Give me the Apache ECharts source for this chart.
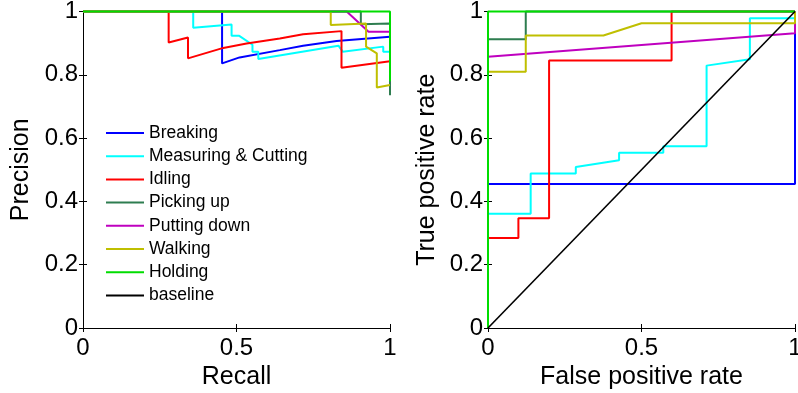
<!DOCTYPE html>
<html>
<head>
<meta charset="utf-8">
<script src="https://cdn.jsdelivr.net/npm/echarts@6/dist/echarts.min.js"></script>
<style>
html,body{margin:0;padding:0;background:#fff;}
#chart{width:798px;height:393px;}
</style>
</head>
<body>
<div id="chart"></div>
<script>
// ---- data ----
const classNames = ['Breaking','Measuring & Cutting','Idling','Picking up','Putting down','Walking','Holding','baseline'];
const classColors = ['#0000ff','#00ffff','#ff0000','#2e7d50','#bf00bf','#bfbf00','#00dd00','#000000'];

const xTicks = [0, 0.5, 1];
const yTicks = [0, 0.2, 0.4, 0.6, 0.8, 1];

// Precision-recall curves [recall, precision]
const prBreaking = [[0,1],[0.453,1],[0.453,0.836],[0.51,0.855],[0.641,0.878],[0.717,0.892],[0.826,0.907],[1,0.92]];
const prMeasuring = [[0,1],[0.359,1],[0.359,0.949],[0.484,0.959],[0.484,0.923],[0.509,0.923],[0.552,0.895],[0.552,0.873],[0.571,0.873],[0.571,0.85],[0.645,0.862],[0.832,0.892],[0.846,0.873],[0.978,0.889],[0.978,0.873],[1,0.873]];
const prIdling = [[0,1],[0.279,1],[0.279,0.902],[0.342,0.918],[0.342,0.852],[0.457,0.885],[0.533,0.899],[0.641,0.915],[0.717,0.928],[0.842,0.938],[0.842,0.822],[1,0.843]];
const prPicking = [[0,1],[0.905,1],[0.905,0.96],[1,0.962],[1,0.735]];
const prPutting = [[0,1],[0.859,1],[0.93,0.936],[1,0.936]];
const prWalking = [[0,1],[0.807,1],[0.807,0.957],[0.922,0.962],[0.922,0.889],[0.957,0.868],[0.957,0.76],[1,0.768]];
const prHolding = [[0,1],[1,1],[1,0.78]];

// ROC curves [false positive rate, true positive rate]
const rocBreaking = [[0,0],[0,0.455],[1,0.455],[1,1]];
const rocMeasuring = [[0,0],[0,0.361],[0.139,0.361],[0.139,0.488],[0.286,0.488],[0.286,0.509],[0.427,0.53],[0.427,0.554],[0.571,0.554],[0.571,0.574],[0.712,0.574],[0.712,0.829],[0.853,0.849],[0.853,0.979],[1,0.979],[1,1]];
const rocIdling = [[0,0],[0,0.284],[0.099,0.284],[0.099,0.347],[0.199,0.347],[0.199,0.845],[0.598,0.845],[0.598,1],[1,1]];
const rocPicking = [[0,0],[0,0.912],[0.123,0.912],[0.123,1],[1,1]];
const rocPutting = [[0,0],[0,0.857],[1,0.931],[1,1]];
const rocWalking = [[0,0],[0,0.81],[0.123,0.81],[0.123,0.924],[0.376,0.924],[0.5,0.963],[1,0.963],[1,1]];
const rocHolding = [[0,0],[0,1],[1,1]];
const rocBaseline = [[0,0],[1,1]];

const prData = [prBreaking, prMeasuring, prIdling, prPicking, prPutting, prWalking, prHolding];
const rocData = [rocBreaking, rocMeasuring, rocIdling, rocPicking, rocPutting, rocWalking, rocHolding, rocBaseline];

// ---- chart ----
const FONT = 'Liberation Sans, Arial, sans-serif';
const chart = echarts.init(document.getElementById('chart'), null, {renderer:'canvas'});

function mainX(grid, name){
  return {type:'value', gridIndex:grid, min:0, max:1, interval:0.5, position:'bottom',
    name:name, nameLocation:'middle', nameGap:34,
    nameTextStyle:{fontFamily:FONT, fontSize:25, color:'#000'},
    axisLine:{show:true, lineStyle:{color:'#000', width:1}},
    axisTick:{show:true, inside:true, length:4, lineStyle:{color:'#000'}},
    axisLabel:{show:true, margin:8, fontFamily:FONT, fontSize:24, color:'#000',
      formatter:v => xTicks.indexOf(v) >= 0 ? String(v) : ''},
    splitLine:{show:false}};
}
function topX(grid){
  return {type:'value', gridIndex:grid, min:0, max:1, interval:0.5, position:'top',
    axisLine:{show:true, lineStyle:{color:'#000', width:1}},
    axisTick:{show:true, inside:true, length:4, lineStyle:{color:'#000'}},
    axisLabel:{show:false}, splitLine:{show:false}};
}
function mainY(grid, name, gap){
  return {type:'value', gridIndex:grid, min:0, max:1, interval:0.2, position:'left',
    name:name, nameLocation:'middle', nameGap:gap,
    nameTextStyle:{fontFamily:FONT, fontSize:25, color:'#000'},
    axisLine:{show:true, lineStyle:{color:'#000', width:1}},
    axisTick:{show:true, inside:true, length:4, lineStyle:{color:'#000'}},
    axisLabel:{show:true, margin:5, fontFamily:FONT, fontSize:24, color:'#000',
      formatter:v => String(Math.round(v*10)/10)},
    splitLine:{show:false}};
}
function rightY(grid){
  return {type:'value', gridIndex:grid, min:0, max:1, interval:0.2, position:'right',
    axisLine:{show:true, lineStyle:{color:'#000', width:1}},
    axisTick:{show:true, inside:true, length:4, lineStyle:{color:'#000'}},
    axisLabel:{show:false}, splitLine:{show:false}};
}

const series = [];
prData.forEach((d, i) => {
  series.push({name:classNames[i], type:'line', xAxisIndex:0, yAxisIndex:0, data:d,
    symbol:'none', clip:false, lineStyle:{color:classColors[i], width:2}, itemStyle:{color:classColors[i]}, z:2+i});
});
rocData.forEach((d, i) => {
  series.push({name:classNames[i], type:'line', xAxisIndex:2, yAxisIndex:2, data:d,
    symbol:'none', clip:false, lineStyle:{color:classColors[i], width:i===7?1.6:2}, itemStyle:{color:classColors[i]}, z:2+i});
});

chart.setOption({
  animation:false,
  backgroundColor:'#fff',
  grid:[
    {left:83, right:408, top:11.5, bottom:65, outerBoundsMode:'none', containLabel:false},
    {left:488, right:3, top:11.5, bottom:65, outerBoundsMode:'none', containLabel:false}
  ],
  xAxis:[mainX(0,'Recall'), topX(0), mainX(1,'False positive rate'), topX(1)],
  yAxis:[mainY(0,'Precision',49), rightY(0), mainY(1,'True positive rate',48), rightY(1)],
  legend:{
    data:classNames, orient:'vertical', left:106, top:124, padding:0,
    icon:'rect', itemWidth:38, itemHeight:2, itemGap:5.2,
    textStyle:{fontFamily:FONT, fontSize:17.5, color:'#000', lineHeight:18},
    selectedMode:false
  },
  series:series
});
</script>
</body>
</html>
